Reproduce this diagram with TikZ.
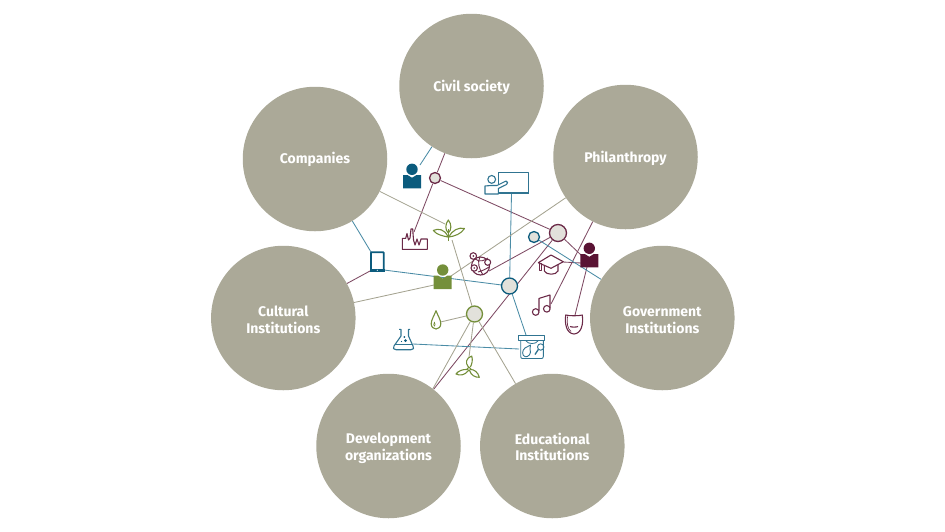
\documentclass[tikz,border=0pt]{standalone}
\usepackage{fontspec}
\setmainfont{Fira Sans}
\definecolor{stone}{HTML}{ABA998}
\definecolor{hubfill}{HTML}{E2E1DB}
\definecolor{tealD}{HTML}{0B5B7D}
\definecolor{tealL}{HTML}{4B8CA6}
\definecolor{maroonD}{HTML}{5A1334}
\definecolor{maroonL}{HTML}{7E4A63}
\definecolor{maroonI}{HTML}{6B2A48}
\definecolor{greenD}{HTML}{748F3A}
\definecolor{greyL}{HTML}{A5A391}
\pgfdeclarelayer{edges}
\pgfsetlayers{edges,main}
\tikzset{
  sector/.style={circle,fill=stone,minimum size=144.5pt,inner sep=0pt},
  sectortext/.style={text=white,align=center,inner sep=0pt,
     font=\fontsize{14}{17}\selectfont\bfseries},
  hub/.style={circle,fill=hubfill,draw=#1,line width=1.3pt,inner sep=0pt},
  linkT/.style={tealL,line width=0.85pt},
  linkM/.style={maroonL,line width=0.85pt},
  linkG/.style={greyL,line width=0.85pt},
  iconT/.style={tealD!85!white,line width=1.1pt,line join=round},
  iconM/.style={maroonI,line width=1.1pt,line join=round},
  iconG/.style={greenD,line width=1.1pt,line join=round},
}
\newcommand{\personicon}[3]{%
  \begin{scope}[shift={(#1,#2)}]
    \fill[#3] (0,-6.7) circle (5.7pt);
    \fill[#3] (-9,-1) -- (-4.5,-1) -- (0,1.8) -- (4.5,-1) -- (9,-1) -- (9,12.3) -- (-9,12.3) -- cycle;
  \end{scope}}
\begin{document}
\begin{tikzpicture}[x=1pt,y=-1pt]
\useasboundingbox (0,0) rectangle (945,531);
% sectors
\node[sector] (civil) at (471.5,86) {};
\node[sector] (comp) at (315,159) {};
\node[sector] (phil) at (625.5,157) {};
\node[sector] (cult) at (283.3,318) {};
\node[sector] (gov) at (662.3,318) {};
\node[sector] (dev) at (388.5,446) {};
\node[sector] (edu) at (552.3,446) {};
\node[sectortext] (civilT) at ([yshift=-1.2pt]civil.center) {Civil society};
\node[sectortext] (compT) at ([yshift=-0.8pt]comp.center) {Companies};
\node[sectortext] (philT) at ([yshift=-1.2pt]phil.center) {Philanthropy};
\node[sectortext] (cultT) at ([yshift=-1.7pt]cult.center) {Cultural\\Institutions};
\node[sectortext] (govT) at ([yshift=-1.7pt]gov.center) {Government\\Institutions};
\node[sectortext] (devT) at ([yshift=-2.2pt]dev.center) {Development\\[-0.7pt]organizations};
\node[sectortext] (eduT) at ([yshift=-0.8pt]edu.center) {Educational\\[-0.7pt]Institutions};
% hubs
\node[hub=maroonI,minimum size=11pt] (hubA) at (435,178) {};
\node[hub=maroonI,minimum size=17pt] (hubB) at (558,233) {};
\node[hub=tealD,minimum size=11pt] (hubC) at (534,237) {};
\node[hub=tealD,minimum size=16pt] (hubD) at (509.5,286) {};
\node[hub=greenD,minimum size=16pt] (hubE) at (474.5,314) {};
% connector ends on the icons
\coordinate (personT) at (420,165);
\coordinate (factory) at (414,232);
\coordinate (plantA) at (445,224);
\coordinate (plantB) at (452,240);
\coordinate (tabletA) at (371,252);
\coordinate (tabletB) at (370,271);
\coordinate (tabletC) at (384,270);
\coordinate (personGa) at (434,285);
\coordinate (personGb) at (451,276);
\coordinate (personMa) at (582,256);
\coordinate (personMb) at (581,263);
\coordinate (personMc) at (587,267);
\coordinate (boardB) at (511.5,194);
\coordinate (earthB) at (489,271);
\coordinate (capR) at (563,262);
\coordinate (noteR) at (551,304);
\coordinate (maskT) at (575,315);
\coordinate (labT) at (526,335);
\coordinate (labL) at (519,349);
\coordinate (flaskR) at (413,344);
\coordinate (dropR) at (440.5,322);
\coordinate (millT) at (469,357);
\coordinate (devIn) at (401,446);
\begin{pgfonlayer}{edges}
  \draw[linkT] (civil) -- (personT);
  \draw[linkM] (civil) -- (hubA);
  \draw[linkM] (hubA) -- (factory);
  \draw[linkM] (hubA) -- (hubB);
  \draw[linkM] (hubB) -- (earthB);
  \draw[linkM] (hubB) -- (personMa);
  \draw[linkM] (hubB) -- (dev);
  \draw[linkM] (phil) -- (noteR);
  \draw[linkM] (personMc) -- (maskT);
  \draw[linkM] (capR) -- (personMb);
  \draw[linkT] (hubC) -- (gov);
  \draw[linkT] (boardB) -- (hubD);
  \draw[linkT] (tabletC) -- (hubD);
  \draw[linkT] (hubD) -- (labT);
  \draw[linkT] (flaskR) -- (labL);
  \draw[linkT] (comp) -- (tabletA);
  \draw[linkM] (cult) -- (tabletB);
  \draw[linkG] (cult) -- (personGa);
  \draw[linkG] (phil) -- (personGb);
  \draw[linkG] (comp) -- (plantA);
  \draw[linkG] (plantB) -- (hubE);
  \draw[linkG] (dropR) -- (hubE);
  \draw[linkG] (millT) -- (hubE);
  \draw[linkG] (hubE) -- (devIn);
  \draw[linkG] (hubE) -- (edu);
\end{pgfonlayer}
% persons
\personicon{412}{176}{tealD}
\personicon{442.7}{276.7}{greenD}
\personicon{589.3}{255}{maroonD}
% tablet
\draw[tealD,line width=1.8pt,rounded corners=0.6pt] (371,252.3) rectangle (383.8,271);
\fill[tealD] (370,268.6) rectangle (384.6,272);
\fill[white] (377.3,270.3) circle (0.6pt);
% board with presenter
\draw[iconT] (498.4,172.8) rectangle (528.3,193.6);
\fill[tealD!85!white] (498,192) rectangle (528.6,194.2);
\draw[iconT] (491.7,179.4) circle (3.9pt);
\draw[iconT,fill=white] (498.3,194) -- (485,194) -- (485,186) -- (491,185.5) -- (497,185.5) -- (506,181) .. controls (508,181) and (508,184) .. (506.5,184.5) -- (498.3,188.5) -- cycle;
% factory
\draw[iconM] (402.3,249.3) -- (402.3,238.3) -- (405.7,238.3) -- (407,233.5) -- (408.5,240) -- (410,238) -- (411,229) -- (412.7,229) -- (413.5,240) -- (415,245) -- (417,239) -- (419,245) -- (421,239) -- (427.3,239) -- (427.3,249.3) -- cycle;
% plant
\draw[iconG] (448.5,241) -- (448.5,229);
\draw[iconG] (448.3,220) .. controls (445,224) and (445,230) .. (448.3,233) .. controls (451.7,230) and (451.7,224) .. (448.3,220) -- cycle;
\draw[iconG] (448,237) .. controls (445,229) and (438,228) .. (433.3,230.5) .. controls (437,235) and (443,236) .. (448,237) -- cycle;
\draw[iconG] (449,237) .. controls (452,230) and (459,227) .. (464.5,228.5) .. controls (461,234) and (455,236) .. (449,237) -- cycle;
% earth
\draw[iconM,fill=white] (480.5,266) circle (9pt);
\draw[iconM] (473.3,256) circle (3.3pt);
\fill[maroonI] (473.3,256) circle (1pt);
\draw[iconM,fill=white] (487.7,262.3) circle (3pt);
\draw[iconM,fill=white] (474.2,268) circle (3.2pt);
\fill[maroonI] (474.2,268) circle (0.9pt);
\draw[iconM,line width=0.9pt] (480,257) .. controls (477,262) and (479,269) .. (483,275);
\draw[iconM,line width=0.9pt] (475,259) .. controls (480,263) and (485,260) .. (488,258);
\draw[iconM,line width=0.9pt] (478,272) .. controls (482,271) and (486,269) .. (489,267);
% graduation cap
\draw[iconM,fill=white] (544.3,265) -- (544.3,271) .. controls (546,275) and (556,275.5) .. (558,271) -- (558,265);
\draw[iconM,fill=white] (538.3,262.7) -- (551,255) -- (563.3,261.7) -- (551,268.3) -- cycle;
\draw[iconM,line width=0.8pt] (539,263.5) rectangle (541.2,270.5);
% music
\draw[iconM] (535.7,312) circle (3.3pt);
\draw[iconM] (546.8,308.8) circle (3.3pt);
\draw[iconM] (539,311) -- (539,298.4) -- (550,295) -- (550,308);
% mask
\draw[iconM] (565.7,315) .. controls (568.5,316) and (579.5,316) .. (582.3,315) .. controls (583.5,324) and (581.5,333.5) .. (574,334) .. controls (566.5,333.5) and (564.5,324) .. (565.7,315) -- cycle;
\draw[iconM,line width=0.7pt] (567.5,316.5) .. controls (566.5,322) and (567.5,329) .. (571,331.5);
\draw[iconM] (570,326.5) .. controls (572,327.3) and (576,327.3) .. (578,326.5);
% lab box
\draw[iconT,fill=white,line width=0.9pt] (520.7,340.5) -- (520.7,356.5) .. controls (520.7,358) and (521.5,358.5) .. (522.5,358.5) -- (541.5,358.5) .. controls (542.5,358.5) and (543.3,358) .. (543.3,356.5) -- (543.3,340.5);
\draw[iconT,fill=white,line width=0.9pt] (518.3,335) rectangle (544.3,340.8);
\draw[iconT,line width=0.8pt] (526,340.8) .. controls (528,344.5) and (536,344.5) .. (538,340.8);
\draw[iconT,line width=0.9pt] (530.5,345) -- (530,349) .. controls (532,354) and (528,357) .. (525.5,356.8) .. controls (521.5,356) and (522,350) .. (525,348) -- cycle;
\draw[iconT,line width=0.9pt] (540.7,347) circle (3.2pt);
\draw[iconT,line width=1.3pt] (538.3,349.5) -- (535,354.5);
% flask
\draw[iconT] (399,329.3) -- (401,329.3) -- (401,336) -- (394,346) .. controls (392.5,348) and (393.5,349.7) .. (396,349.7) -- (411,349.7) .. controls (413.5,349.7) and (414.5,348) .. (413,346) -- (408.5,336) -- (408.5,329.3) -- (410,329.3);
\draw[iconT] (395,344.7) -- (412,344.7);
\fill[tealD] (404.3,337) circle (1pt) (405.5,340.6) circle (1.5pt) (401.5,341.5) circle (0.6pt);
% drop
\draw[iconG] (436,310.7) .. controls (434,316) and (431.2,320) .. (431.2,323.7) .. controls (431.2,327) and (433.5,329) .. (436,329) .. controls (438.5,329) and (440.8,327) .. (440.8,323.7) .. controls (440.8,320) and (438,316) .. (436,310.7) -- cycle;
\draw[iconG,line width=0.6pt] (434.4,322) .. controls (433.5,324) and (433.5,326) .. (434.4,326.2) .. controls (435.4,326) and (435.4,324) .. (434.4,322) -- cycle;
% wind turbine
\draw[iconG] (468.4,367) .. controls (465,363) and (466,358) .. (471.7,356) .. controls (473,360) and (472,364) .. (470.4,367);
\draw[iconG] (467.2,369.5) .. controls (463,369) and (458,371) .. (456,374) .. controls (460,376) and (465,375) .. (468,371);
\draw[iconG] (470.8,369.5) .. controls (474,369.5) and (478,372) .. (479.3,377.3) .. controls (475,377.5) and (471,375) .. (469.8,371);
\draw[iconG,fill=white] (469,369) circle (1.9pt);
\end{tikzpicture}
\end{document}
